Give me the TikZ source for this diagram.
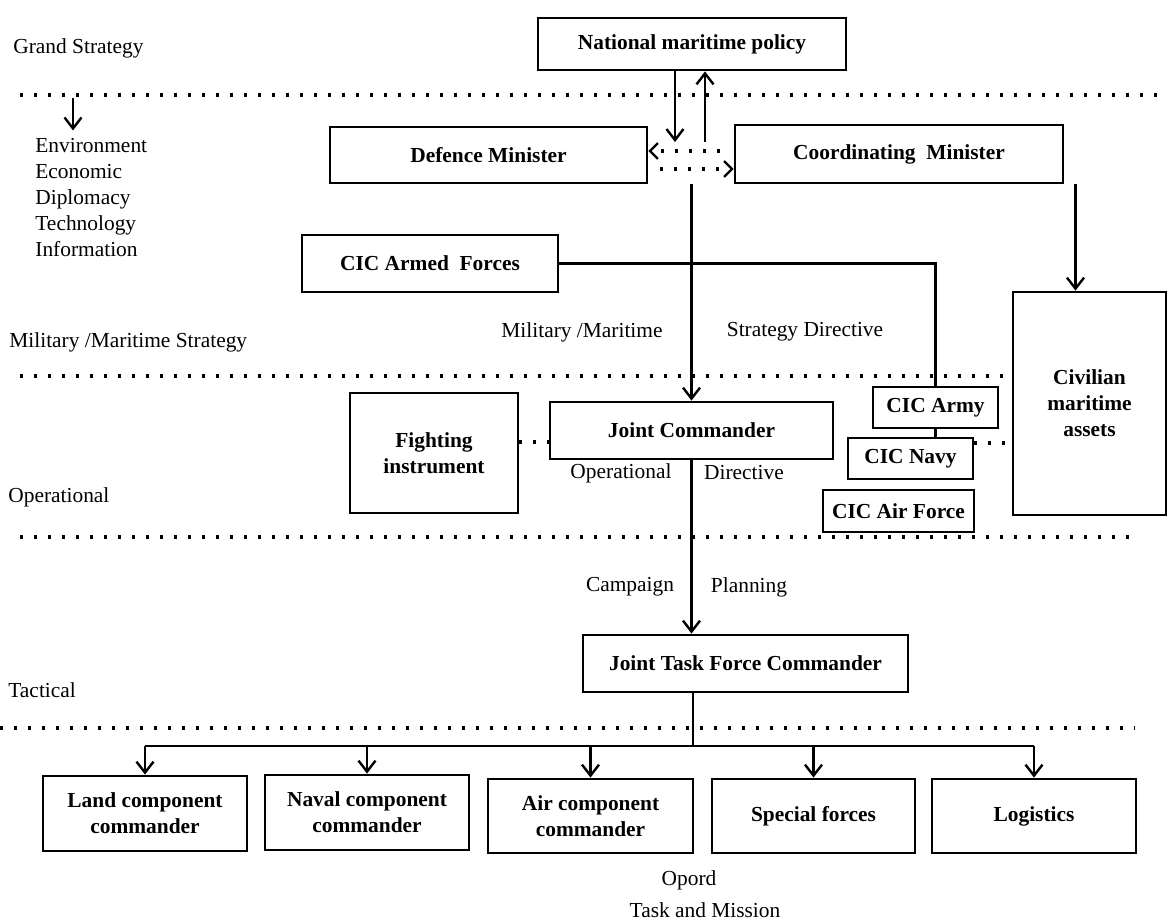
\documentclass[tikz,border=0pt]{standalone}
\usepackage{fontspec}
\setmainfont{Liberation Serif}
\usetikzlibrary{arrows.meta}
\newcommand{\diagfont}{\fontsize{10.7}{13}\selectfont}

\begin{document}
\begin{tikzpicture}[x=0.5pt,y=-0.5pt,
	box/.style={draw,line width=1.4pt,font=\diagfont\bfseries,align=center,inner sep=0pt},
	txt/.style={font=\diagfont,inner sep=0pt},
	wire/.style={line width=1.2pt},
	link/.style={wire,-{Straight Barb[length=5.5pt,width=8.5pt]}},
	dots/.style={line width=1.6pt,dash pattern=on 1.4pt off 5.6pt},
	dotlink/.style={dots,-{Straight Barb[length=4pt,width=8pt,line width=1.1pt]}}]

		\useasboundingbox (0,0) rectangle (1168,921);

		\foreach \y/\a/\b in {95/20/1165,376/20/1010,537/20/1133,728/0/1135}
			\draw [dots] (\a,\y) -- (\b,\y);

		\node (GrandStrategy) at (13,48) [txt,anchor=west]{Grand Strategy};
		\node (EnvList) at (35,198) [txt,anchor=west,align=left,inner ysep=4pt]{Environment\\Economic\\Diplomacy\\Technology\\Information};
		\node (MilitaryStrategy) at (9,342) [txt,anchor=west]{Military /Maritime Strategy};
		\node (OperationalLevel) at (8,497) [txt,anchor=west]{Operational};
		\node (TacticalLevel) at (8,690) [txt,anchor=west]{Tactical};

		\node (NationalPolicy) at (692,44) [box,minimum width=154pt,minimum height=26pt]{National maritime policy};

		\node (DefenceMinister) at (488.5,155) [box,minimum width=158.5pt,minimum height=28pt]{Defence Minister};
		\node (CoordinatingMinister) at (899,154) [box,minimum width=164pt,minimum height=29pt]{Coordinating~ Minister};

		\node (CICArmed) at (430,263.5) [box,minimum width=128pt,minimum height=28.5pt]{CIC Armed~ Forces};
		\node (Civilian) at (1089.5,403.5) [box,minimum width=76.5pt,minimum height=111.5pt]{Civilian\\maritime\\assets};

		\node (MilitaryMaritime) at (582,332) [txt]{Military /Maritime};
		\node (StrategyDirective) at (805,332) [txt]{Strategy Directive};

		\node (FightingInstrument) at (434,453) [box,minimum width=84pt,minimum height=60pt]{Fighting\\instrument};
		\node (JointCommander) at (691.5,430.5) [box,minimum width=141.5pt,minimum height=28.5pt]{Joint Commander};
		\node (CICArmy) at (935.5,407.5) [box,minimum width=62.5pt,minimum height=20.5pt]{CIC Army};
		\node (CICNavy) at (910.5,458.5) [box,minimum width=62.5pt,minimum height=20.5pt]{CIC Navy};
		\node (CICAirForce) at (898.5,511) [box,minimum width=75.5pt,minimum height=21pt]{CIC Air Force};

		\node (OperationalText) at (621,473) [txt]{Operational};
		\node (DirectiveText) at (744,473) [txt]{Directive};
		\node (CampaignText) at (630,587) [txt]{Campaign};
		\node (PlanningText) at (749,587) [txt]{Planning};

		\node (JointTaskForce) at (745.5,663.5) [box,minimum width=162.5pt,minimum height=28.5pt]{Joint Task Force Commander};

		\node (LandComponent) at (145,813.5) [box,minimum width=102pt,minimum height=37.5pt]{Land component\\commander};
		\node (NavalComponent) at (367,812.5) [box,minimum width=102pt,minimum height=37.5pt]{Naval component\\commander};
		\node (AirComponent) at (590.5,816) [box,minimum width=102.5pt,minimum height=37pt]{Air component\\commander};
		\node (SpecialForces) at (813.5,816) [box,minimum width=101.5pt,minimum height=37pt]{Special forces};
		\node (Logistics) at (1034,816) [box,minimum width=102pt,minimum height=37pt]{Logistics};

		\node (OpordText) at (689,880) [txt]{Opord};
		\node (TaskMission) at (705,910) [txt]{Task and Mission};

		\coordinate (GrandDown) at (73,98);
		\draw [link] (GrandDown) -- (GrandDown |- EnvList.north);

		\coordinate (PolicyDown) at (675,142);
		\coordinate (PolicyUp) at (705,142);
		\draw [link] (PolicyDown |- NationalPolicy.south) -- (PolicyDown);
		\draw [link] (PolicyUp) -- (PolicyUp |- NationalPolicy.south);

		\coordinate (ToDefence) at (720,151);
		\coordinate (ToCoordinating) at (660,169);
		\draw [dotlink] (ToDefence) -- (ToDefence -| DefenceMinister.east);
		\draw [dotlink] (ToCoordinating) -- (ToCoordinating -| CoordinatingMinister.west);

		\draw [link] (DefenceMinister.south -| JointCommander.north) -- (JointCommander.north);

		\draw [wire] (CICArmed.east) -| (CICArmy.north);
		\draw [wire] (CICArmy.south) -- (CICArmy.south |- CICNavy.north);

		\coordinate (CivilianIn) at ([xshift=-7pt]Civilian.north);
		\draw [link] (CivilianIn |- CoordinatingMinister.south) -- (CivilianIn);

		\coordinate (FightLink) at (534,442);
		\draw [dots] (FightLink -| FightingInstrument.east) -- (FightLink -| JointCommander.west);
		\coordinate (NavyLink) at (990,443);
		\draw [dots] (NavyLink -| CICNavy.east) -- (NavyLink -| Civilian.west);

		\draw [link] (JointCommander.south) -- (JointCommander.south |- JointTaskForce.north);

		\coordinate (BusDrop) at (693,746);
		\draw [wire] (BusDrop |- JointTaskForce.south) -- (BusDrop);
		\draw [wire] (LandComponent.north |- BusDrop) -- (Logistics.north |- BusDrop);
		\foreach \target in {LandComponent,NavalComponent,AirComponent,SpecialForces,Logistics}
			\draw [link] (\target.north |- BusDrop) -- (\target.north);
	\end{tikzpicture}
\end{document}
